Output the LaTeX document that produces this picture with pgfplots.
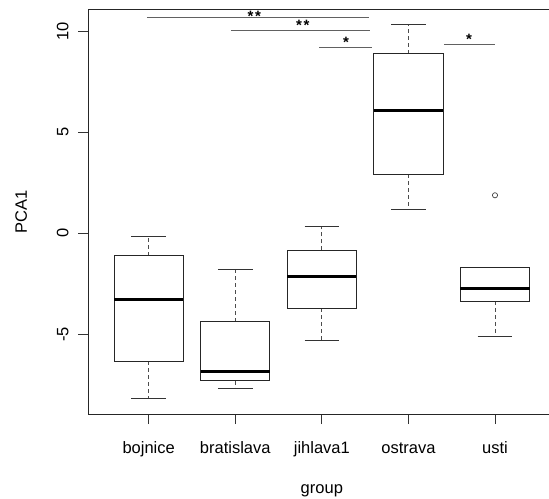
\documentclass[border=0pt]{standalone}
\usepackage{fontspec}
\setmainfont{Liberation Sans}
\usepackage{pgfplots}
\pgfplotsset{compat=1.18}
\usepgfplotslibrary{statistics}

\pgfplotsset{
  rbox/.style={
    boxplot prepared={#1},
    boxplot/draw direction=y,
    boxplot/box extend=0.8,
    boxplot/whisker extend=0.4,
    boxplot/every box/.style={draw=black!85, line width=0.9bp, fill=white},
    boxplot/every median/.style={draw=black, line width=3bp},
    boxplot/every whisker/.style={draw=black!70, line width=0.9bp, dash pattern=on 4bp off 3bp},
    boxplot/draw/lower whisker/.code={%
      \draw[/pgfplots/boxplot/every whisker/.try]
        (boxplot box cs:\pgfplotsboxplotvalue{lower quartile},0.5) --
        (boxplot box cs:\pgfplotsboxplotvalue{lower whisker},0.5);
      \draw[black!80, line width=0.9bp]
        (boxplot whisker cs:\pgfplotsboxplotvalue{lower whisker},0) --
        (boxplot whisker cs:\pgfplotsboxplotvalue{lower whisker},1);
    },
    boxplot/draw/upper whisker/.code={%
      \draw[/pgfplots/boxplot/every whisker/.try]
        (boxplot box cs:\pgfplotsboxplotvalue{upper quartile},0.5) --
        (boxplot box cs:\pgfplotsboxplotvalue{upper whisker},0.5);
      \draw[black!80, line width=0.9bp]
        (boxplot whisker cs:\pgfplotsboxplotvalue{upper whisker},0) --
        (boxplot whisker cs:\pgfplotsboxplotvalue{upper whisker},1);
    },
    mark=o, mark size=2.6bp, mark options={draw=black!75, line width=0.7bp},
    draw=black,
  },
  sigline/.style={draw=black!62, line width=1.1bp, mark=none},
}

\begin{document}
\begin{tikzpicture}
\begin{axis}[
  scale only axis,
  width=467.5bp, height=404.5bp,
  xmin=0.3, xmax=5.7,
  ymin=-8.94, ymax=11.07,
  axis line style={draw=black!85, line width=0.9bp},
  tick align=outside,
  xtick pos=left, ytick pos=left,
  major tick length=10bp,
  tick style={draw=black!80, line width=0.9bp},
  xtick={1,2,3,4,5},
  xticklabels={bojnice,bratislava,jihlava1,ostrava,usti},
  ytick={-5,0,5,10},
  /pgf/number format/assume math mode=true,
  tick label style={font=\fontsize{16.5bp}{19bp}\selectfont},
  xticklabel style={anchor=base, yshift=-29bp},
  yticklabel style={xshift=-6bp, rotate=90, anchor=south},
  label style={font=\fontsize{16.5bp}{19bp}\selectfont},
  xlabel={group},
  xlabel style={at={(axis description cs:0.5,-0.1953)}, anchor=base},
  ylabel={PCA1},
  ylabel style={at={(axis description cs:-0.1433,0.5)}, anchor=center},
  clip=false,
]
% box statistics per site
\addplot+[rbox={draw position=1, lower whisker=-8.18, lower quartile=-6.32,
  median=-3.29, upper quartile=-1.11, upper whisker=-0.17}] coordinates {};
\addplot+[rbox={draw position=2, lower whisker=-7.67, lower quartile=-7.29,
  median=-6.86, upper quartile=-4.37, upper whisker=-1.78}] coordinates {};
\addplot+[rbox={draw position=3, lower whisker=-5.28, lower quartile=-3.71,
  median=-2.12, upper quartile=-0.84, upper whisker=0.36}] coordinates {};
\addplot+[rbox={draw position=4, lower whisker=1.19, lower quartile=2.93,
  median=6.05, upper quartile=8.88, upper whisker=10.32}] coordinates {};
\addplot+[rbox={draw position=5, lower whisker=-5.08, lower quartile=-3.35,
  median=-2.75, upper quartile=-1.70, upper whisker=-1.70}] coordinates {(5,1.88)};

% pairwise significance brackets
\addplot[sigline] coordinates {(0.98,10.66) (3.55,10.66)};
\addplot[sigline] coordinates {(1.95,10.02) (3.56,10.02)};
\addplot[sigline] coordinates {(2.97,9.21) (3.58,9.21)};
\addplot[sigline] coordinates {(4.41,9.35) (5.00,9.35)};
\node[font=\fontsize{15bp}{15bp}\bfseries, inner sep=0, anchor=base, yshift=-8bp]
  at (axis cs:2.22,10.89) {*\hspace{1.5bp}*};
\node[font=\fontsize{15bp}{15bp}\bfseries, inner sep=0, anchor=base, yshift=-8bp]
  at (axis cs:2.78,10.41) {*\hspace{1.5bp}*};
\node[font=\fontsize{15bp}{15bp}\bfseries, inner sep=0, anchor=base, yshift=-8bp]
  at (axis cs:3.28,9.57) {*};
\node[font=\fontsize{15bp}{15bp}\bfseries, inner sep=0, anchor=base, yshift=-8bp]
  at (axis cs:4.70,9.73) {*};
\end{axis}
\pgfresetboundingbox
\path (-88.1bp,-85bp) rectangle (460.9bp,414bp);
\end{tikzpicture}
\end{document}
